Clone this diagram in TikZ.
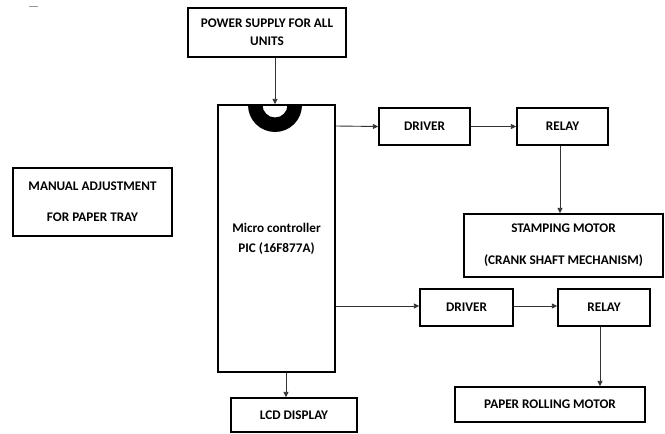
\documentclass[tikz,border=0pt]{standalone}
\usepackage{fontspec}
\setmainfont{Carlito}
\usetikzlibrary{arrows.meta}
\begin{document}
\begin{tikzpicture}[x=1pt,y=-1pt,
  blk/.style={draw=black,line width=1.4pt,inner sep=0pt,align=center,
    font=\bfseries\fontsize{13.2}{15}\selectfont},
  conn/.style={draw=black!80,line width=0.9pt,-{Triangle[length=5.5pt,width=5pt]}}]
\path[use as bounding box,fill=white] (0,0) rectangle (665,434);
\draw[black!40,line width=0.8pt] (29,6) -- (38,6);
% boxes
\node[blk,minimum width=158pt,minimum height=49pt] (psu) at (267,32.5) {POWER SUPPLY FOR ALL\\[3pt]UNITS};
\node[blk,minimum width=117pt,minimum height=267pt] (pic) at (276.5,238.5) {Micro controller\\[5pt]PIC (16F877A)};
\node[blk,minimum width=159pt,minimum height=68pt] (man) at (92.5,202) {MANUAL ADJUSTMENT\\[16pt]FOR PAPER TRAY};
\node[blk,minimum width=91pt,minimum height=37pt] (drv1) at (424.5,126.5) {DRIVER};
\node[blk,minimum width=91pt,minimum height=37pt] (rel1) at (562.5,126.5) {RELAY};
\node[blk,minimum width=199pt,minimum height=63pt] (stm) at (563.5,245.5) {STAMPING MOTOR\\[17pt](CRANK SHAFT MECHANISM)};
\node[blk,minimum width=93pt,minimum height=37pt] (drv2) at (466.5,307.5) {DRIVER};
\node[blk,minimum width=92pt,minimum height=37pt] (rel2) at (604,307.5) {RELAY};
\node[blk,minimum width=190pt,minimum height=35pt] (prm) at (550,404.5) {PAPER ROLLING MOTOR};
\node[blk,minimum width=126pt,minimum height=34pt] (lcd) at (294,415) {LCD DISPLAY};
% notch
\begin{scope}
\clip (pic.north west) rectangle ([yshift=-40pt]pic.north east);
\fill[black,even odd rule] (275,105) circle (27) (275,105) circle (12.5);
\end{scope}
% connectors
\draw[conn] (psu.south -| 275,0) -- (pic.north -| 275,0);
\draw[conn] (pic.east |- 0,126) -- (drv1.west);
\draw[conn] (drv1.east) -- (rel1.west);
\draw[conn] (rel1.south -| 560,0) -- (stm.north -| 560,0);
\draw[conn] (pic.east |- 0,306) -- (drv2.west |- 0,306);
\draw[conn] (drv2.east |- 0,306) -- (rel2.west |- 0,306);
\draw[conn] (rel2.south -| 600,0) -- (prm.north -| 600,0);
\draw[conn] (pic.south -| 286,0) -- (lcd.north -| 286,0);
\end{tikzpicture}
\end{document}
